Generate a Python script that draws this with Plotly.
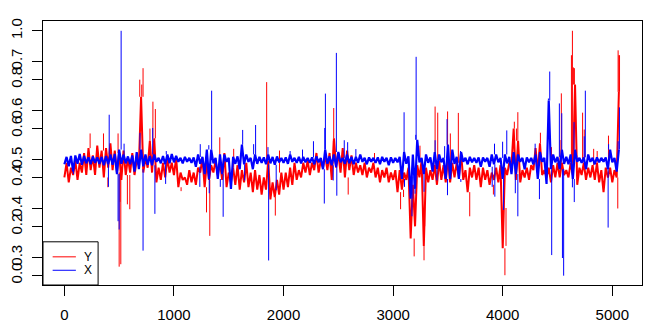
import plotly.graph_objects as go

# Sample index at the start of each 40-step bin; each bin keeps its low and high value
bin_start = list(range(0, 5080, 40))
BIN_W = 40
BIN_HALF = 20

# Y series (red): per-bin low / high
y_lo = [0.40, 0.38, 0.41, 0.39, 0.42, 0.41, 0.43, 0.41, 0.44, 0.40,
        0.44, 0.43, 0.42, 0.39, 0.41, 0.42, 0.41, 0.45, 0.42, 0.44,
        0.42, 0.38, 0.39, 0.40, 0.42, 0.41, 0.36, 0.39, 0.37, 0.38,
        0.37, 0.42, 0.36, 0.39, 0.42, 0.41, 0.39, 0.36, 0.38, 0.37,
        0.35, 0.38, 0.36, 0.34, 0.35, 0.33, 0.35, 0.31, 0.32, 0.33,
        0.35, 0.36, 0.37, 0.39, 0.40, 0.42, 0.41, 0.43, 0.42, 0.44,
        0.43, 0.39, 0.44, 0.42, 0.40, 0.43, 0.41, 0.42, 0.41, 0.40,
        0.42, 0.40, 0.38, 0.40, 0.38, 0.39, 0.34, 0.35, 0.39, 0.15,
        0.20, 0.40, 0.12, 0.38, 0.39, 0.37, 0.39, 0.38, 0.38, 0.40,
        0.40, 0.39, 0.34, 0.40, 0.39, 0.36, 0.39, 0.37, 0.39, 0.38,
        0.11, 0.41, 0.45, 0.39, 0.38, 0.40, 0.39, 0.43, 0.42, 0.41,
        0.40, 0.38, 0.40, 0.40, 0.41, 0.40, 0.41, 0.37, 0.41, 0.39,
        0.40, 0.39, 0.38, 0.34, 0.40, 0.38, 0.40]
y_hi = [0.46, 0.44, 0.47, 0.46, 0.50, 0.52, 0.49, 0.53, 0.51, 0.52,
        0.54, 0.51, 0.50, 0.51, 0.48, 0.50, 0.47, 0.73, 0.48, 0.55,
        0.56, 0.44, 0.46, 0.48, 0.46, 0.48, 0.42, 0.40, 0.43, 0.42,
        0.44, 0.48, 0.46, 0.45, 0.47, 0.46, 0.50, 0.42, 0.44, 0.45,
        0.43, 0.46, 0.42, 0.43, 0.41, 0.40, 0.47, 0.38, 0.39, 0.42,
        0.42, 0.44, 0.46, 0.43, 0.46, 0.47, 0.46, 0.50, 0.47, 0.49,
        0.50, 0.56, 0.50, 0.52, 0.51, 0.49, 0.46, 0.45, 0.46, 0.44,
        0.46, 0.44, 0.43, 0.44, 0.42, 0.43, 0.43, 0.42, 0.44, 0.37,
        0.45, 0.47, 0.44, 0.43, 0.45, 0.47, 0.45, 0.48, 0.46, 0.46,
        0.50, 0.43, 0.44, 0.45, 0.44, 0.44, 0.43, 0.42, 0.44, 0.45,
        0.44, 0.46, 0.60, 0.55, 0.43, 0.44, 0.45, 0.52, 0.54, 0.43,
        0.44, 0.45, 0.46, 0.46, 0.43, 0.46, 0.78, 0.44, 0.46, 0.44,
        0.45, 0.46, 0.43, 0.44, 0.44, 0.43, 0.75]
# Y series: isolated excursions
y_spike_x = [235, 357, 397, 490, 500, 508, 515, 575, 597, 688, 700, 706, 718,
             781, 808, 830, 1065, 1297, 1327, 1418, 1545, 1846, 1925, 1963,
             2455, 2458, 2590, 2830, 3068, 3095, 3192, 3245, 3282, 3288,
             3383, 3407, 3497, 3522, 3595, 3699, 3915, 4020, 4030, 4106,
             4125, 4138, 4344, 4445, 4523, 4535, 4627, 4636, 4645, 4654,
             4729, 4744, 4830, 4862, 4965, 5050, 5053, 5060, 5066]
y_spike_v = [0.58, 0.58, 0.36, 0.58, 0.035, 0.30, 0.045, 0.29, 0.27, 0.80, 0.62, 0.78, 0.847,
             0.60, 0.71, 0.68, 0.344, 0.257, 0.161, 0.564, 0.517, 0.79, 0.244, 0.51,
             0.55, 0.684, 0.33, 0.50, 0.27, 0.32, 0.077, 0.53, 0.061, 0.20,
             0.69, 0.665, 0.67, 0.58, 0.664, 0.241, 0.33, 0.0, 0.12, 0.628,
             0.60, 0.667, 0.583, 0.524, 0.553, 0.744, 0.90, 1.0, 0.85, 0.847,
             0.665, 0.596, 0.517, 0.508, 0.571, 0.273, 0.92, 0.90, 0.90]

# X series (blue): per-bin low / high
x_lo = [0.490, 0.486, 0.475, 0.491, 0.489, 0.492, 0.490, 0.493, 0.491, 0.488,
        0.490, 0.489, 0.470, 0.491, 0.492, 0.490, 0.475, 0.480, 0.486, 0.489,
        0.488, 0.495, 0.492, 0.490, 0.492, 0.494, 0.495, 0.492, 0.495, 0.493,
        0.485, 0.491, 0.470, 0.460, 0.492, 0.460, 0.470, 0.495, 0.440, 0.491,
        0.480, 0.490, 0.495, 0.480, 0.491, 0.493, 0.490, 0.492, 0.489, 0.494,
        0.493, 0.491, 0.495, 0.493, 0.492, 0.494, 0.493, 0.490, 0.494, 0.480,
        0.491, 0.488, 0.485, 0.494, 0.491, 0.492, 0.490, 0.493, 0.495, 0.490,
        0.495, 0.493, 0.490, 0.495, 0.488, 0.493, 0.494, 0.460, 0.491, 0.420,
        0.440, 0.494, 0.470, 0.493, 0.475, 0.480, 0.494, 0.460, 0.460, 0.491,
        0.460, 0.495, 0.490, 0.494, 0.493, 0.485, 0.495, 0.485, 0.490, 0.494,
        0.460, 0.492, 0.470, 0.470, 0.495, 0.480, 0.494, 0.490, 0.460, 0.495,
        0.450, 0.480, 0.494, 0.480, 0.491, 0.490, 0.460, 0.495, 0.493, 0.480,
        0.495, 0.490, 0.494, 0.495, 0.480, 0.494, 0.475]
x_hi = [0.505, 0.507, 0.508, 0.511, 0.507, 0.504, 0.506, 0.504, 0.505, 0.507,
        0.510, 0.511, 0.520, 0.510, 0.506, 0.508, 0.515, 0.520, 0.510, 0.507,
        0.510, 0.503, 0.507, 0.510, 0.511, 0.507, 0.503, 0.505, 0.503, 0.504,
        0.510, 0.505, 0.520, 0.520, 0.503, 0.510, 0.510, 0.503, 0.505, 0.506,
        0.530, 0.510, 0.503, 0.510, 0.505, 0.504, 0.510, 0.505, 0.506, 0.503,
        0.504, 0.510, 0.503, 0.505, 0.505, 0.503, 0.504, 0.506, 0.503, 0.520,
        0.506, 0.510, 0.515, 0.503, 0.510, 0.505, 0.505, 0.510, 0.503, 0.504,
        0.503, 0.504, 0.505, 0.503, 0.504, 0.503, 0.505, 0.515, 0.506, 0.510,
        0.540, 0.503, 0.510, 0.504, 0.515, 0.510, 0.503, 0.530, 0.520, 0.505,
        0.515, 0.503, 0.505, 0.503, 0.504, 0.504, 0.503, 0.510, 0.510, 0.503,
        0.510, 0.505, 0.515, 0.510, 0.503, 0.504, 0.503, 0.510, 0.515, 0.503,
        0.620, 0.510, 0.505, 0.520, 0.505, 0.510, 0.520, 0.503, 0.504, 0.510,
        0.503, 0.504, 0.503, 0.504, 0.520, 0.503, 0.520]
# X series: isolated excursions
x_spike_x = [82, 402, 409, 490, 500, 518, 545, 690, 718, 806, 826, 924, 930,
             1236, 1240, 1318, 1322, 1344, 1423, 1449, 1627, 1645, 1727, 1745,
             1858, 1864, 1933, 2060, 2173, 2273, 2372, 2376, 2382, 2453, 2482,
             2486, 2554, 2585, 2660, 3100, 3104, 3172, 3180, 3200, 3207, 3210,
             3282, 3383, 3400, 3470, 3492, 3496, 3615, 3618, 3904, 3925, 3928,
             3999, 4008, 4037, 4115, 4138, 4296, 4335, 4417, 4429, 4447, 4517,
             4539, 4545, 4556, 4636, 4651, 4653, 4744, 4754, 4962, 4966, 5053,
             5065]
x_spike_v = [0.47, 0.444, 0.591, 0.374, 0.357, 0.762, 0.532, 0.554, 0.314, 0.564, 0.389, 0.45, 0.517,
             0.444, 0.531, 0.529, 0.431, 0.64, 0.444, 0.383, 0.56, 0.457, 0.531, 0.57,
             0.525, 0.294, 0.437, 0.517, 0.52, 0.537, 0.41, 0.564, 0.634, 0.457, 0.717,
             0.426, 0.539, 0.535, 0.521, 0.596, 0.444, 0.384, 0.42, 0.43, 0.55, 0.709,
             0.434, 0.539, 0.457, 0.527, 0.582, 0.427, 0.517, 0.454, 0.444, 0.532, 0.424,
             0.536, 0.397, 0.559, 0.431, 0.384, 0.532, 0.419, 0.624, 0.679, 0.305, 0.614,
             0.594, 0.299, 0.263, 0.443, 0.576, 0.413, 0.547, 0.64, 0.361, 0.531, 0.537,
             0.606]

y_ticks = [0.0, 0.2, 0.4, 0.6, 0.8, 1.0]
x2_ticks = [0.3, 0.4, 0.5, 0.6, 0.7]
idx_ticks = [0, 1000, 2000, 3000, 4000, 5000]

FONT = "Liberation Sans, Arial, sans-serif"


def envelope_path(lo, hi):
    """Zig-zag between each bin's low (at its start) and high (at its middle)."""
    xs, ys = [], []
    for s, a, b in zip(bin_start, lo, hi):
        xs += [s, s + BIN_HALF]
        ys += [a, b]
    return xs, ys


def spike_segments(lo, hi, sx, sv):
    """Vertical strokes from the edge of the bin envelope out to each excursion."""
    xs, ys = [], []
    for x, v in zip(sx, sv):
        i = min(x // BIN_W, len(lo) - 1)
        base = hi[i] if v > hi[i] else (lo[i] if v < lo[i] else (lo[i] + hi[i]) / 2)
        xs += [x, x, None]
        ys += [base, v, None]
    return xs, ys


def add_series(fig, lo, hi, sx, sv, color, name, axis, band_width):
    ex, ey = envelope_path(lo, hi)
    fig.add_trace(go.Scatter(x=ex, y=ey, mode="lines", yaxis=axis, name=name,
                             line=dict(color=color, width=band_width, simplify=False)))
    spx, spy = spike_segments(lo, hi, sx, sv)
    fig.add_trace(go.Scatter(x=spx, y=spy, mode="lines", yaxis=axis, name=name,
                             line=dict(color=color, width=1, simplify=False),
                             connectgaps=False))


fig = go.Figure()
add_series(fig, y_lo, y_hi, y_spike_x, y_spike_v, "#FF0000", "Y", "y", 2.0)
add_series(fig, x_lo, x_hi, x_spike_x, x_spike_v, "#0000FF", "X", "y2", 2.2)

axis_common = dict(showgrid=False, zeroline=False, showline=True, linecolor="black",
                   linewidth=1, ticks="outside", ticklen=10, tickcolor="black",
                   tickwidth=1, tickfont=dict(family=FONT, size=15, color="black"))

fig.update_layout(
    width=651, height=331,
    margin=dict(l=42, r=8, t=21, b=41),
    paper_bgcolor="white", plot_bgcolor="white",
    showlegend=False,
    xaxis=dict(range=[-195, 5271], tickvals=idx_ticks,
               ticktext=[str(t) for t in idx_ticks], mirror=True,
               ticklabelstandoff=6, **axis_common),
    yaxis=dict(range=[-0.04, 1.04], tickvals=y_ticks,
               ticktext=[f"{t:.1f}" for t in y_ticks], tickangle=-90,
               mirror=True, ticklabelstandoff=4, **axis_common),
    yaxis2=dict(range=[0.244, 0.782], tickvals=x2_ticks,
                ticktext=[f"{t:.1f}" for t in x2_ticks], tickangle=-90,
                overlaying="y", side="left", ticklabelstandoff=4, **axis_common),
)

# Legend box in the lower-left corner
fig.add_shape(type="rect", xref="paper", yref="paper", x0=0, x1=0.092, y0=0, y1=0.1636,
              line=dict(color="black", width=1), fillcolor="white", layer="above")
for label, color, yy in [("Y", "#FF0000", 0.1067), ("X", "#0000FF", 0.0558)]:
    fig.add_shape(type="line", xref="paper", yref="paper", x0=0.0161, x1=0.0549,
                  y0=yy, y1=yy, line=dict(color=color, width=1), layer="above")
    fig.add_annotation(text=label, xref="paper", yref="paper", x=0.0749, y=yy,
                       showarrow=False, xanchor="center", yanchor="middle",
                       font=dict(family=FONT, size=12, color="black"))

fig.write_html("out.html")
